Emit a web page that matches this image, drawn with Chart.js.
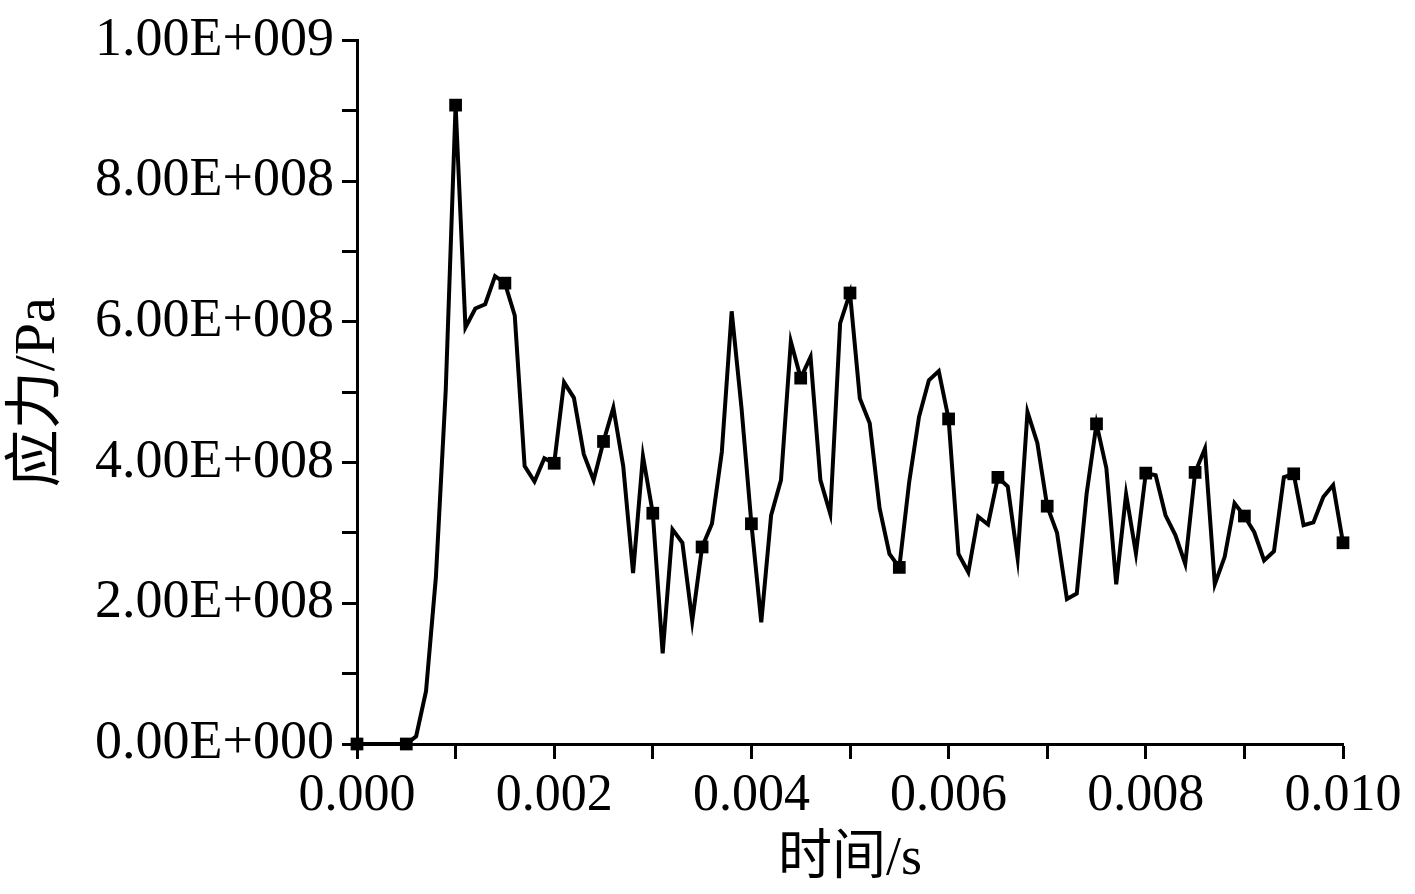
<!DOCTYPE html>
<html>
<head>
<meta charset="utf-8">
<script src="https://cdn.jsdelivr.net/npm/chart.js@4"></script>
<style>
  html, body { margin: 0; padding: 0; background: #fff; }
  #wrap { width: 1415px; height: 894px; position: relative; }
</style>
</head>
<body>
<div id="wrap"><canvas id="chart"></canvas></div>
<script>
// time (s), one sample every 0.1 ms
const times = [
  0.0000, 0.0001, 0.0002, 0.0003, 0.0004, 0.0005, 0.0006, 0.0007, 0.0008, 0.0009,
  0.0010, 0.0011, 0.0012, 0.0013, 0.0014, 0.0015, 0.0016, 0.0017, 0.0018, 0.0019,
  0.0020, 0.0021, 0.0022, 0.0023, 0.0024, 0.0025, 0.0026, 0.0027, 0.0028, 0.0029,
  0.0030, 0.0031, 0.0032, 0.0033, 0.0034, 0.0035, 0.0036, 0.0037, 0.0038, 0.0039,
  0.0040, 0.0041, 0.0042, 0.0043, 0.0044, 0.0045, 0.0046, 0.0047, 0.0048, 0.0049,
  0.0050, 0.0051, 0.0052, 0.0053, 0.0054, 0.0055, 0.0056, 0.0057, 0.0058, 0.0059,
  0.0060, 0.0061, 0.0062, 0.0063, 0.0064, 0.0065, 0.0066, 0.0067, 0.0068, 0.0069,
  0.0070, 0.0071, 0.0072, 0.0073, 0.0074, 0.0075, 0.0076, 0.0077, 0.0078, 0.0079,
  0.0080, 0.0081, 0.0082, 0.0083, 0.0084, 0.0085, 0.0086, 0.0087, 0.0088, 0.0089,
  0.0090, 0.0091, 0.0092, 0.0093, 0.0094, 0.0095, 0.0096, 0.0097, 0.0098, 0.0099,
  0.0100
];

// stress in units of 1e8 Pa
const stress = [
  0, 0, 0, 0, 0, 0, 0.11, 0.75, 2.37, 5.03,
  9.08, 5.92, 6.19, 6.25, 6.65, 6.55, 6.09, 3.95, 3.73, 4.06,
  3.99, 5.14, 4.92, 4.12, 3.75, 4.30, 4.78, 3.95, 2.43, 4.09,
  3.28, 1.29, 3.05, 2.86, 1.75, 2.80, 3.13, 4.15, 6.15, 4.77,
  3.13, 1.73, 3.25, 3.75, 5.72, 5.20, 5.50, 3.75, 3.27, 5.98,
  6.41, 4.91, 4.56, 3.35, 2.70, 2.51, 3.72, 4.65, 5.17, 5.30,
  4.62, 2.70, 2.44, 3.23, 3.12, 3.79, 3.66, 2.64, 4.72, 4.28,
  3.38, 3.00, 2.06, 2.14, 3.56, 4.55, 3.92, 2.27, 3.55, 2.71,
  3.85, 3.82, 3.25, 2.97, 2.56, 3.86, 4.20, 2.27, 2.66, 3.42,
  3.24, 3.01, 2.61, 2.74, 3.79, 3.84, 3.11, 3.15, 3.51, 3.68,
  2.86
];

// tick labels (blank = minor tick)
const xTickLabels = ['0.000', '', '0.002', '', '0.004', '', '0.006', '', '0.008', '', '0.010'];
const yTickLabels = ['0.00E+000', '', '2.00E+008', '', '4.00E+008', '', '6.00E+008', '', '8.00E+008', '', '1.00E+009'];

const FONT = '"Liberation Serif", "Times New Roman", "Noto Sans CJK SC", serif';

const points = times.map((t, i) => ({ x: t, y: stress[i] * 1e8 }));

const ctx = document.getElementById('chart').getContext('2d');
new Chart(ctx, {
  type: 'line',
  data: {
    datasets: [{
      data: points,
      borderColor: '#000',
      backgroundColor: '#000',
      borderWidth: 4,
      tension: 0,
      pointStyle: 'rect',
      // symbol on every fifth sample
      pointRadius: c => (c.dataIndex % 5 === 0 ? 9 : 0),
      pointBorderWidth: 0,
      clip: false
    }]
  },
  options: {
    responsive: true,
    maintainAspectRatio: false,
    animation: false,
    layout: { padding: { top: 40, right: 72, left: 0, bottom: 0 } },
    plugins: { legend: { display: false }, tooltip: { enabled: false } },
    scales: {
      x: {
        type: 'linear',
        min: 0,
        max: 0.01,
        afterFit: s => { s.height = 150; },
        border: { display: true, color: '#000', width: 3 },
        grid: { drawOnChartArea: false, color: '#000', tickLength: 15, tickWidth: 3 },
        ticks: {
          stepSize: 0.001,
          autoSkip: false,
          maxRotation: 0,
          padding: 6,
          color: '#000',
          font: { family: FONT, size: 52 },
          callback: (v, i) => xTickLabels[i]
        },
        title: {
          display: true,
          text: '时间/s',
          color: '#000',
          font: { family: FONT, size: 54 },
          padding: { top: 0, bottom: 2 }
        }
      },
      y: {
        type: 'linear',
        min: 0,
        max: 1e9,
        afterFit: s => { s.width = 357; },
        border: { display: true, color: '#000', width: 3 },
        grid: { drawOnChartArea: false, color: '#000', tickLength: 15, tickWidth: 3 },
        ticks: {
          stepSize: 1e8,
          autoSkip: false,
          padding: 8,
          color: '#000',
          font: { family: FONT, size: 54 },
          callback: (v, i) => yTickLabels[i]
        },
        title: {
          display: true,
          text: '应力/Pa',
          color: '#000',
          font: { family: FONT, size: 58 },
          padding: { top: 4, bottom: 0 }
        }
      }
    }
  }
});
</script>
</body>
</html>
